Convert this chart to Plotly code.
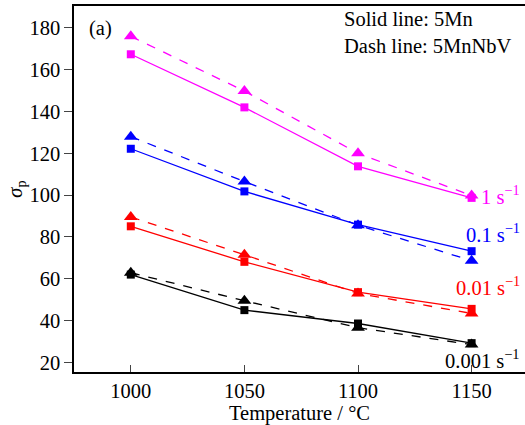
import plotly.graph_objects as go

temps = [1000, 1050, 1100, 1150]
rates = ["1 s<sup>−1</sup>", "0.1 s<sup>−1</sup>", "0.01 s<sup>−1</sup>", "0.001 s<sup>−1</sup>"]
colors = ["#FF00FF", "#0000FF", "#FF0000", "#000000"]

# Solid line: 5Mn (squares)
mn_1 = [167.4, 142.0, 113.8, 98.7]
mn_01 = [122.2, 101.8, 85.9, 73.2]
mn_001 = [85.1, 68.1, 53.6, 45.6]
mn_0001 = [62.0, 45.0, 38.6, 29.2]

# Dash line: 5MnNbV (triangles)
nbv_1 = [176.0, 149.8, 120.0, 99.8]
nbv_01 = [128.0, 106.5, 85.6, 68.6]
nbv_001 = [89.6, 71.5, 53.0, 43.4]
nbv_0001 = [62.9, 49.5, 36.6, 28.5]

label_y = [100.2, 82.0, 56.5, 21.5]

solid_sets = [mn_1, mn_01, mn_001, mn_0001]
dash_sets = [nbv_1, nbv_01, nbv_001, nbv_0001]

font = "Liberation Serif"
fs = 20.5
fig = go.Figure()
for vals, col in zip(dash_sets, colors):
    fig.add_trace(go.Scatter(x=temps, y=vals, mode="lines+markers",
                             line=dict(color=col, width=1.3, dash="dash"),
                             marker=dict(symbol="triangle-up", size=12, color=col),
                             showlegend=False, cliponaxis=False))
for vals, col in zip(solid_sets, colors):
    fig.add_trace(go.Scatter(x=temps, y=vals, mode="lines+markers",
                             line=dict(color=col, width=1.3),
                             marker=dict(symbol="square", size=8, color=col),
                             showlegend=False, cliponaxis=False))

for txt, ly, col in zip(rates, label_y, colors):
    fig.add_annotation(x=0.993, y=ly, xref="paper", yref="y", text=txt, showarrow=False,
                       xanchor="right", yanchor="middle",
                       font=dict(family=font, size=fs, color=col))

fig.add_annotation(x=0.028, y=0.975, xref="paper", yref="paper", text="(a)",
                   showarrow=False, xanchor="left", yanchor="top",
                   font=dict(family=font, size=fs, color="black"))
fig.add_annotation(x=0.595, y=1.0, xref="paper", yref="paper",
                   text="Solid line: 5Mn<br>Dash line: 5MnNbV", align="left",
                   showarrow=False, xanchor="left", yanchor="top",
                   font=dict(family=font, size=fs, color="black"))

fig.update_layout(
    width=525, height=425,
    margin=dict(l=74, r=0, t=6, b=53),
    plot_bgcolor="white", paper_bgcolor="white",
    font=dict(family=font, size=fs, color="black"),
    xaxis=dict(range=[975, 1173.5], tickvals=temps, ticks="inside", ticklen=7,
               showline=True, linecolor="black", linewidth=1.5, mirror=True,
               showgrid=False, zeroline=False, automargin=False,
               title=dict(text="Temperature / °C", standoff=0,
                          font=dict(family=font, size=fs))),
    yaxis=dict(range=[15.4, 190.5], tickvals=[20, 40, 60, 80, 100, 120, 140, 160, 180],
               ticks="outside", ticklen=8,
               showline=True, linecolor="black", linewidth=1.5,
               showgrid=False, zeroline=False, automargin=False,
               title=dict(text="<i>σ</i><sub>p</sub>", standoff=0,
                          font=dict(family=font, size=fs))),
)

fig.write_html("out.html", config={"displayModeBar": False},
               post_script="document.body.style.margin='0';")
